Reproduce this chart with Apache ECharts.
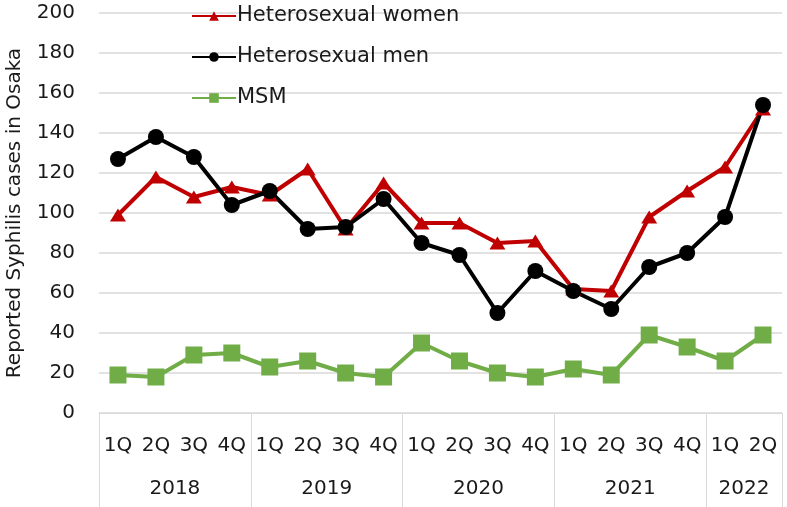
<!DOCTYPE html>
<html>
<head>
<meta charset="utf-8">
<script src="https://cdn.jsdelivr.net/npm/echarts@6/dist/echarts.min.js"></script>
<style>html,body{margin:0;padding:0;background:#fff}#c{width:787px;height:507px}</style>
</head>
<body>
<div id="c"></div>
<script>
const quarters = ['1Q','2Q','3Q','4Q','1Q','2Q','3Q','4Q','1Q','2Q','3Q','4Q','1Q','2Q','3Q','4Q','1Q','2Q'];
const categoryYears = ['2018','2018','2018','2018','2019','2019','2019','2019','2020','2020','2020','2020','2021','2021','2021','2021','2022','2022'];
const heteroWomen = [99,118,108,113,109,122,92,115,95,95,85,86,62,61,98,111,123,152];
const heteroMen = [127,138,128,104,111,92,93,107,85,79,50,71,61,52,73,80,98,154];
const msm = [19,18,29,30,23,26,20,18,35,26,20,18,22,19,39,33,26,39];
const yTicks = {min: 0, max: 200, interval: 20};
const yTitle = 'Reported Syphilis cases in Osaka';
const seriesNames = ['Heterosexual women','Heterosexual men','MSM'];

// derive year groups
const groupStarts = [];
categoryYears.forEach((y, i) => { if (i === 0 || categoryYears[i-1] !== y) groupStarts.push(i); });
const yearSlots = new Array(quarters.length + 1).fill('');
groupStarts.forEach((s, gi) => {
  const e = gi + 1 < groupStarts.length ? groupStarts[gi+1] : quarters.length;
  yearSlots[s + (e - s) / 2] = categoryYears[s];
});

const FONT = 'DejaVu Sans';
const TXT = '#1a1a1a';
const GRID = '#d9d9d9';

const chart = echarts.init(document.getElementById('c'), null, {renderer: 'canvas'});
chart.setOption({
  animation: false,
  backgroundColor: '#ffffff',
  textStyle: {fontFamily: FONT},
  grid: {left: 99, right: 5, top: 13, bottom: 94, outerBoundsMode: 'none', containLabel: false},
  legend: {
    orient: 'vertical', left: 186, top: 0, itemWidth: 44, itemHeight: 12, itemGap: 19,
    data: seriesNames,
    textStyle: {fontFamily: FONT, fontSize: 21, color: TXT, lineHeight: 22, padding: [0,0,0,-4]}
  },
  xAxis: [{
    type: 'category', data: quarters, gridIndex: 0, position: 'bottom',
    axisLine: {show: true, lineStyle: {color: GRID, width: 1}},
    axisTick: {show: true, length: 94, interval: (i) => groupStarts.indexOf(i) >= 0, lineStyle: {color: GRID, width: 1}},
    axisLabel: {interval: 0, margin: 23, fontSize: 20, color: TXT, fontFamily: FONT},
    splitLine: {show: false}
  }, {
    type: 'category', data: yearSlots, gridIndex: 0, position: 'bottom', boundaryGap: false,
    axisLine: {show: false}, axisTick: {show: false},
    axisLabel: {interval: 0, margin: 66, fontSize: 20, color: TXT, fontFamily: FONT},
    splitLine: {show: false}
  }],
  yAxis: {
    type: 'value', min: yTicks.min, max: yTicks.max, interval: yTicks.interval,
    name: yTitle, nameLocation: 'middle', nameGap: 74, nameRotate: 90,
    nameTextStyle: {fontSize: 20, color: TXT, fontFamily: FONT},
    axisLine: {show: false}, axisTick: {show: false},
    axisLabel: {margin: 24, fontSize: 20, color: TXT, fontFamily: FONT},
    splitLine: {lineStyle: {color: GRID, width: 1.5}}
  },
  series: [{
    name: seriesNames[0], type: 'line', data: heteroWomen,
    symbol: 'triangle', symbolSize: [16, 13],
    lineStyle: {color: '#C00000', width: 4}, itemStyle: {color: '#C00000'}
  }, {
    name: seriesNames[1], type: 'line', data: heteroMen,
    symbol: 'circle', symbolSize: 16,
    lineStyle: {color: '#000000', width: 4}, itemStyle: {color: '#000000'}
  }, {
    name: seriesNames[2], type: 'line', data: msm,
    symbol: 'rect', symbolSize: 17,
    lineStyle: {color: '#70AD47', width: 4}, itemStyle: {color: '#70AD47'}
  }]
});
</script>
</body>
</html>
